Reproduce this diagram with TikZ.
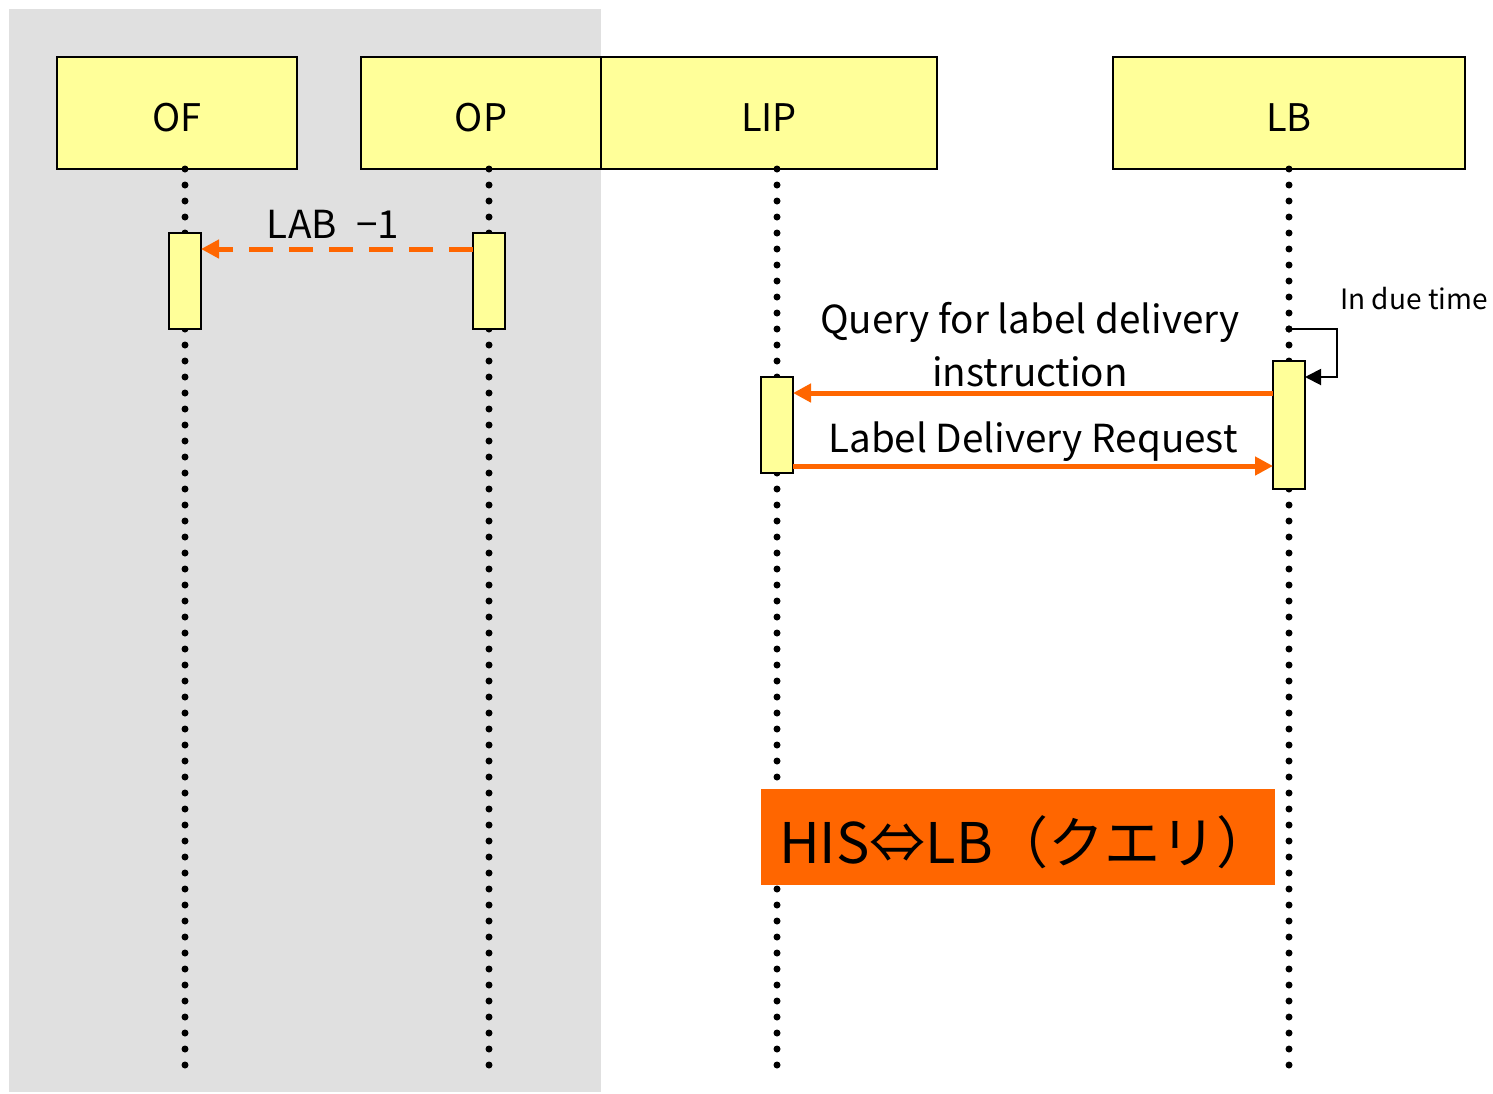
\documentclass[tikz,border=0pt]{standalone}
\usepackage{fontspec}
\setmainfont{Noto Sans CJK JP}
\usetikzlibrary{arrows.meta,calc}
\definecolor{hdr}{HTML}{FFFF99}
\definecolor{org}{HTML}{FF6600}
\definecolor{bggray}{HTML}{E0E0E0}
\newcommand{\lowtxt}[2]{\raisebox{-#1}[\height][\depth]{#2}}
\tikzset{
  head/.style={draw=black,line width=1pt,fill=hdr,minimum height=56pt,inner sep=0pt,outer sep=0pt,font=\fontsize{19}{20}\selectfont},
  actbox/.style={draw=black,line width=1pt,fill=hdr,minimum width=16pt,inner sep=0pt,outer sep=0pt},
  life/.style={line width=3.5pt,line cap=round,dash pattern=on 0pt off 8pt},
  msg/.style={draw=org,line width=2.5pt,-{Triangle[length=9pt,width=9pt]}},
  lbl/.style={font=\fontsize{19.3}{25}\selectfont,align=center,inner sep=0pt},
}
\begin{document}
\begin{tikzpicture}[x=0.5pt,y=-0.5pt]
\useasboundingbox (0,0) rectangle (1493,1093);
\fill[bggray] (9,9) rectangle (601,1092);
% headers
\node[head,minimum width=120pt] (of) at (177,113) {\lowtxt{2.5pt}{OF}};
\node[head,minimum width=120pt] (op) at (481,113) {\lowtxt{2.5pt}{OP}};
\node[head,minimum width=168pt] (lip) at (769,113) {\lowtxt{2.5pt}{LIP}};
\node[head,minimum width=176pt] (lb) at (1289,113) {\lowtxt{2.5pt}{LB}};
% lifeline ends
\coordinate (ofe) at (185,1066);
\coordinate (ope) at (489,1066);
\coordinate (lipe) at (777,1066);
\coordinate (lbe) at (1289,1066);
\draw[life] (185,169) -- (ofe);
\draw[life] (489,169) -- (ope);
\draw[life] (777,169) -- (lipe);
\draw[life] (1289,169) -- (lbe);
% activation boxes
\node[actbox,minimum height=48pt] (ofa) at (185,281) {};
\node[actbox,minimum height=48pt] (opa) at (489,281) {};
\node[actbox,minimum height=48pt] (lipa) at (777,425) {};
\node[actbox,minimum height=64pt] (lba) at (1289,425) {};
% LAB -1
\draw[msg,dash pattern=on 12pt off 8pt] ($(opa.north west)+(0,16)$) -- ($(ofa.north east)+(0,16)$);
\node[lbl] (labl) at (333,224) {LAB\hspace{0.5em}−1};
% query
\draw[msg] ($(lba.north west)+(0,32)$) -- ($(lipa.north east)+(0,16)$);
\node[lbl] (ql1) at (1030,322) {Query for label delivery};
\node[lbl] (ql2) at (1030,372) {instruction};
% request
\draw[msg] ($(lipa.south east)+(0,-7)$) -- ($(lba.north west)+(0,105)$);
\node[lbl] (rl) at (1033,442) {Label Delivery Request};
% self loop
\coordinate (lbloop) at (1289,329);
\draw[line width=1pt,-{Triangle[length=8pt,width=8pt]}] (lbloop) -- ++(48,0) |- ($(lba.north east)+(0,16)$);
\fill (lbloop) circle (3.5);
\node[font=\fontsize{14}{16}\selectfont,inner sep=0pt] (due) at (1414,299) {In due time};
% HIS box
\node[fill=org,minimum width=257pt,minimum height=48pt,inner sep=0pt,font=\fontsize{28}{30}\selectfont] (his) at (1018,837) {\hspace{8pt}\lowtxt{2.5pt}{HIS⇔LB（クエリ）}};
\end{tikzpicture}
\end{document}
